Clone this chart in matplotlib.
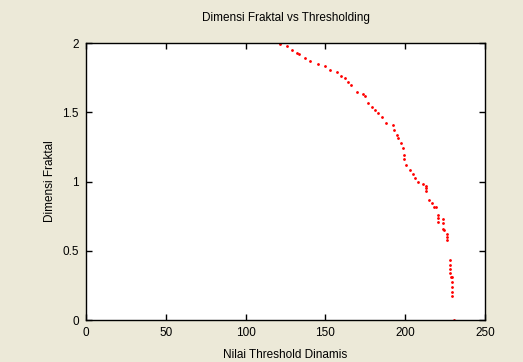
import matplotlib
matplotlib.use("Agg")
import matplotlib.pyplot as plt

# threshold value vs fractal dimension
threshold = [121.6, 126.1, 128.9, 132.0, 133.7, 137.2, 140.4, 145.6, 149.7, 152.9,
             157.1, 159.8, 162.3, 164.4, 165.8, 170.0, 173.8, 174.5, 176.5, 179.0,
             181.1, 183.2, 185.3, 188.0, 192.2, 193.0, 194.6, 195.7, 197.1, 198.4,
             199.2, 199.5, 200.5, 203.0, 204.7, 206.1, 208.3, 211.0, 213.0, 213.0,
             213.0, 215.1, 216.6, 218.0, 219.2, 220.8, 220.8, 220.8, 223.9, 223.9,
             223.9, 224.5, 226.0, 226.0, 226.0, 228.1, 228.1, 228.1, 228.1, 228.8,
             229.5, 229.5, 229.5, 229.5, 229.5, 230.8]
fractal_dim = [1.993, 1.978, 1.949, 1.925, 1.918, 1.889, 1.872, 1.848, 1.834, 1.805,
               1.788, 1.762, 1.745, 1.721, 1.697, 1.644, 1.630, 1.617, 1.569, 1.540,
               1.516, 1.492, 1.468, 1.425, 1.408, 1.372, 1.336, 1.312, 1.276, 1.240,
               1.191, 1.160, 1.119, 1.083, 1.054, 1.023, 0.999, 0.982, 0.970, 0.950,
               0.930, 0.866, 0.847, 0.814, 0.814, 0.760, 0.735, 0.710, 0.730, 0.700,
               0.660, 0.650, 0.620, 0.600, 0.580, 0.430, 0.400, 0.370, 0.340, 0.310,
               0.310, 0.275, 0.240, 0.205, 0.170, 0.000]

xticks = [0, 50, 100, 150, 200, 250]
yticks = [0, 0.5, 1, 1.5, 2]

plt.rcParams["font.family"] = ["Liberation Sans", "DejaVu Sans"]
plt.rcParams["font.size"] = 8.5

fig = plt.figure(figsize=(5.23, 3.62), dpi=100, facecolor="#ECE9D8")
ax = fig.add_axes([0.1644, 0.116, 0.763, 0.765])
ax.set_facecolor("white")

ax.plot(threshold, fractal_dim, "r.", markersize=2)

ax.set_xlim(0, 250)
ax.set_ylim(0, 2)
ax.set_xticks(xticks)
ax.set_yticks(yticks)
ax.set_yticklabels(["0", "0.5", "1", "1.5", "2"])
ax.tick_params(direction="in", top=True, right=True, length=4, width=1, pad=5)
for s in ax.spines.values():
    s.set_linewidth(1)

ax.set_title("Dimensi Fraktal vs Thresholding", fontsize=8.5, pad=16)
ax.set_xlabel("Nilai Threshold Dinamis", labelpad=7)
ax.set_ylabel("Dimensi Fraktal", labelpad=5)

fig.savefig("out.png", dpi=100, facecolor=fig.get_facecolor())
